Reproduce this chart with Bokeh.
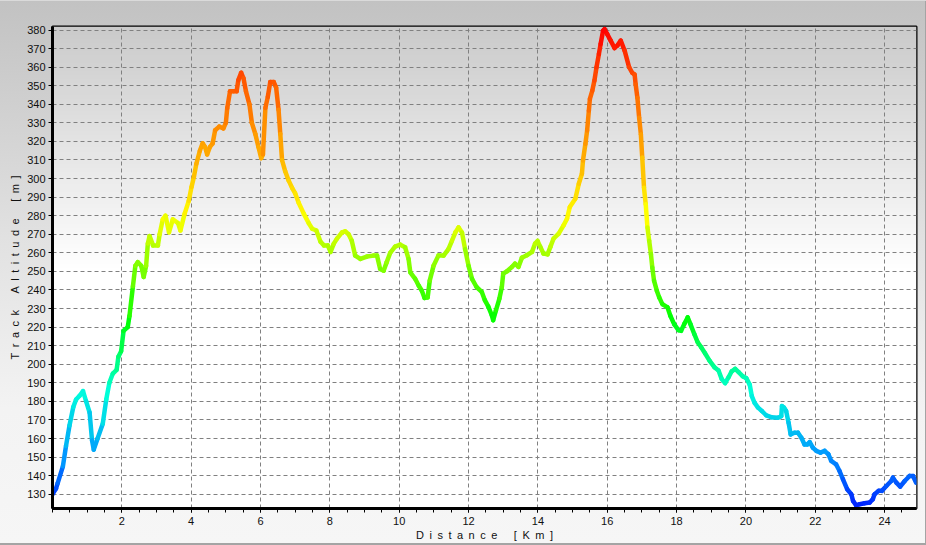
import numpy as np
from bokeh.plotting import figure
from bokeh.models import FixedTicker, Range1d, ColumnDataSource
from bokeh.transform import linear_cmap
from bokeh.embed import file_html
from bokeh.resources import INLINE

# ---------------- data ----------------
distance_km = [
    0.00, 0.10, 0.15, 0.30, 0.39, 0.49, 0.60, 0.68, 0.78, 0.88, 0.97, 1.07, 1.14, 1.19, 1.30,
    1.45, 1.55, 1.64, 1.74, 1.85, 1.90, 1.98, 2.05, 2.17, 2.22, 2.32, 2.39, 2.46, 2.56, 2.63,
    2.70, 2.75, 2.80, 2.90, 3.04, 3.09, 3.18, 3.26, 3.36, 3.47, 3.62, 3.69, 3.81, 3.93, 4.01,
    4.08, 4.15, 4.25, 4.33, 4.40, 4.46, 4.54, 4.62, 4.69, 4.81, 4.93, 5.00, 5.04, 5.12, 5.22,
    5.31, 5.36, 5.44, 5.51, 5.58, 5.68, 5.75, 5.85, 5.94, 6.02, 6.07, 6.14, 6.21, 6.28, 6.38,
    6.45, 6.52, 6.57, 6.62, 6.71, 6.81, 6.91, 7.00, 7.10, 7.25, 7.39, 7.49, 7.61, 7.73, 7.83,
    7.94, 8.02, 8.11, 8.20, 8.35, 8.44, 8.54, 8.63, 8.73, 8.88, 9.07, 9.26, 9.36, 9.45, 9.55,
    9.64, 9.74, 9.88, 10.03, 10.17, 10.27, 10.32, 10.46, 10.56, 10.65, 10.73, 10.82, 10.88, 10.99, 11.13,
    11.28, 11.42, 11.52, 11.62, 11.71, 11.81, 11.90, 12.00, 12.10, 12.23, 12.38, 12.47, 12.57, 12.67, 12.71,
    12.79, 12.89, 12.96, 13.00, 13.12, 13.25, 13.34, 13.44, 13.54, 13.68, 13.83, 13.92, 13.99, 14.07, 14.16,
    14.28, 14.36, 14.45, 14.60, 14.74, 14.84, 14.92, 15.08, 15.18, 15.27, 15.30, 15.37, 15.42, 15.47, 15.50,
    15.57, 15.63, 15.69, 15.76, 15.81, 15.88, 15.92, 16.00, 16.10, 16.21, 16.29, 16.39, 16.50, 16.63, 16.72,
    16.79, 16.82, 16.87, 16.92, 16.97, 17.01, 17.06, 17.11, 17.16, 17.21, 17.26, 17.30, 17.35, 17.43, 17.50,
    17.59, 17.74, 17.82, 17.93, 18.05, 18.13, 18.22, 18.32, 18.40, 18.51, 18.61, 18.71, 18.82, 18.95, 19.09,
    19.21, 19.30, 19.40, 19.50, 19.59, 19.69, 19.79, 19.91, 20.01, 20.11, 20.17, 20.25, 20.35, 20.46, 20.59,
    20.73, 20.92, 21.02, 21.04, 21.10, 21.16, 21.23, 21.29, 21.40, 21.50, 21.60, 21.69, 21.77, 21.84, 21.93,
    22.03, 22.15, 22.27, 22.38, 22.46, 22.60, 22.70, 22.80, 22.92, 23.04, 23.09, 23.18, 23.28, 23.42, 23.57,
    23.66, 23.71, 23.83, 23.92, 24.05, 24.19, 24.24, 24.34, 24.45, 24.58, 24.72, 24.82, 24.91,
]
altitude_m = [
    130, 133, 136, 145, 156, 167, 177, 181, 183, 185.5, 180, 174, 159, 154, 160,
    168, 181, 190, 195, 197, 204, 207, 218, 220, 226, 242, 253, 255, 253, 247,
    253, 265, 269, 264, 264, 270, 278, 280, 271, 278, 276, 272, 281, 288, 295.5,
    301, 308, 315, 319, 317, 313, 317, 319, 326, 328, 327, 330, 338, 347, 347,
    347, 353, 357, 354, 347, 340, 330, 324, 317, 311, 313, 338, 344, 352, 352,
    349, 337, 324, 310, 304, 299, 295, 292, 287, 281, 276, 273, 272, 266, 264,
    264, 260.5, 264.8, 267.5, 271, 271.6, 270, 266.6, 258.5, 256.7, 258, 258.5, 258.5, 251.3, 250.4,
    255, 260, 263.3, 264.4, 263, 256.7, 249.5, 246, 242.4, 239.7, 235.7, 236, 245, 253, 258.5,
    258.5, 262, 266.5, 271, 273.7, 271, 262, 253, 246, 241.6, 239, 234.5, 231, 226.4, 223.7,
    229, 235.4, 241.6, 248.8, 250.2, 252.4, 254.2, 252.4, 257.4, 258.7, 260.5, 265, 266.4, 263.2, 259.6,
    259.2, 263.2, 267.6, 270.3, 274.8, 278.4, 284.7, 289.1, 297.2, 302.6, 309.7, 318.7, 325.9, 336.6, 342.9,
    347.4, 352.8, 359.9, 367.1, 372.5, 379.6, 380.5, 377.8, 374.3, 370.3, 371.6, 374.3, 369, 360, 357,
    356, 350.7, 343.5, 332.8, 323.8, 311.3, 295.1, 286.2, 273.6, 266.5, 259.3, 252.1, 245, 239.6, 236,
    232.4, 230.6, 226.1, 221.6, 218.4, 218, 221.6, 225.2, 221.6, 216.3, 211.8, 209.1, 205.9, 201.9, 198.4,
    196.6, 192.1, 189.8, 193, 196.2, 197.5, 195.7, 193.5, 192.5, 189, 182.8, 179.2, 176.6, 174.8, 172.4,
    171.5, 171.2, 172, 177.5, 176.6, 174.8, 168.5, 162.2, 163.1, 163.1, 160.4, 156.8, 156.8, 158.1, 155.1,
    153.3, 152.4, 153.3, 151.5, 147.9, 146.1, 142.5, 138, 132.7, 130, 126.4, 124, 124.6, 125.1, 125.5,
    127.3, 130, 131.8, 131.8, 134.4, 137.1, 138.9, 136.2, 134.1, 137.1, 139.8, 139.8, 136.2,
]
x_tick_values = [2, 4, 6, 8, 10, 12, 14, 16, 18, 20, 22, 24]
y_tick_values = [130, 140, 150, 160, 170, 180, 190, 200, 210, 220, 230, 240, 250,
                 260, 270, 280, 290, 300, 310, 320, 330, 340, 350, 360, 370, 380]
x_title = "Distance [Km]"
y_title = "Track Altitude [m]"

# ---------------- styles ----------------
X_LO, X_HI = 0.0, 24.92
Y_LO, Y_HI = 122.3, 381.9
FONT = "Liberation Sans"
SP = "\u2002"  # letter spacing used by the original axis titles


def spaced(s):
    return SP.join(ch if ch != " " else SP for ch in s)


# altitude colour ramp (blue -> cyan -> green -> yellow -> orange -> red)
ramp_alt = [123, 150, 185, 225, 280, 310, 350, 381]
ramp_rgb = [(0, 32, 255), (0, 150, 255), (0, 255, 220), (0, 255, 0),
            (255, 255, 0), (255, 180, 0), (255, 90, 0), (255, 0, 0)]
lv = np.linspace(ramp_alt[0], ramp_alt[-1], 256)
palette = []
for a in lv:
    r = np.interp(a, ramp_alt, [c[0] for c in ramp_rgb])
    g = np.interp(a, ramp_alt, [c[1] for c in ramp_rgb])
    b = np.interp(a, ramp_alt, [c[2] for c in ramp_rgb])
    palette.append("#%02x%02x%02x" % (int(round(r)), int(round(g)), int(round(b))))

p = figure(width=926, height=545, output_backend="svg", toolbar_location=None,
           x_range=Range1d(X_LO, X_HI), y_range=Range1d(Y_LO, Y_HI),
           min_border_left=52, min_border_right=10, min_border_top=26, min_border_bottom=37)
p.border_fill_color = None
p.styles = {
    "background": "linear-gradient(180deg, #c2c2c2 0%, #e2e2e2 45%, #f3f3f3 75%, #f6f6f6 100%)",
    "box-shadow": "inset 0 1px 0 #dadada, inset -1px -2px 0 #a4a4a4",
}
p.background_fill_color = "white"
p.outline_line_color = "black"
p.outline_line_width = 2

# plot-area gradient (grey at top fading to white at mid height)
H = 120
t = np.linspace(0, 1, H)
k = np.clip((t - 0.5) / 0.5, 0, 1)
grey = (255 - k * (255 - 203)).astype(np.uint8)
img = np.zeros((H, 1), dtype=np.uint32)
view = img.view(dtype=np.uint8).reshape((H, 1, 4))
view[:, 0, 0] = grey
view[:, 0, 1] = grey
view[:, 0, 2] = grey
view[:, 0, 3] = 255
p.image_rgba(image=[img], x=X_LO, y=Y_LO, dw=X_HI - X_LO, dh=Y_HI - Y_LO, level="image")

# profile as coloured segments
d = np.array(distance_km)
a = np.array(altitude_m)
src = ColumnDataSource(dict(x0=d[:-1], x1=d[1:], y0=a[:-1], y1=a[1:], c=(a[:-1] + a[1:]) / 2))
p.segment(x0="x0", y0="y0", x1="x1", y1="y1", source=src, line_width=4.5, line_cap="round",
          line_color=linear_cmap("c", palette, ramp_alt[0], ramp_alt[-1]))

# axes
minor_x = [i * 0.5 for i in range(0, 50)]
p.xaxis.ticker = FixedTicker(ticks=x_tick_values, minor_ticks=minor_x)
minor_y = list(range(124, 382, 2))
p.yaxis.ticker = FixedTicker(ticks=y_tick_values, minor_ticks=minor_y)
p.xgrid.ticker = FixedTicker(ticks=x_tick_values)
p.ygrid.ticker = FixedTicker(ticks=y_tick_values)
for g in (p.xgrid, p.ygrid):
    g.grid_line_color = "#808080"
    g.grid_line_dash = "4 3"
    g.grid_line_width = 1

for ax in (p.xaxis, p.yaxis):
    ax.axis_line_color = "black"
    ax.axis_line_width = 3
    ax.major_tick_line_color = "black"
    ax.minor_tick_line_color = "black"
    ax.major_label_text_font = FONT
    ax.major_label_text_font_size = "11px"
    ax.major_label_text_color = "#101010"
    ax.axis_label_text_font = FONT
    ax.axis_label_text_font_size = "11px"
    ax.axis_label_text_font_style = "normal"
    ax.axis_label_text_color = "#101010"

p.xaxis.major_tick_in = 0
p.xaxis.major_tick_out = 4
p.xaxis.minor_tick_in = 0
p.xaxis.minor_tick_out = 4
p.xaxis.major_label_standoff = 4
p.xaxis.axis_label_standoff = 1
p.xaxis.axis_label = spaced(x_title)

p.yaxis.major_tick_in = 0
p.yaxis.major_tick_out = 4
p.yaxis.minor_tick_in = 1
p.yaxis.minor_tick_out = 1
p.yaxis.major_label_standoff = 3
p.yaxis.axis_label_standoff = 3
p.yaxis.axis_label = spaced(y_title)

open("out.html", "w").write(file_html(p, INLINE))
